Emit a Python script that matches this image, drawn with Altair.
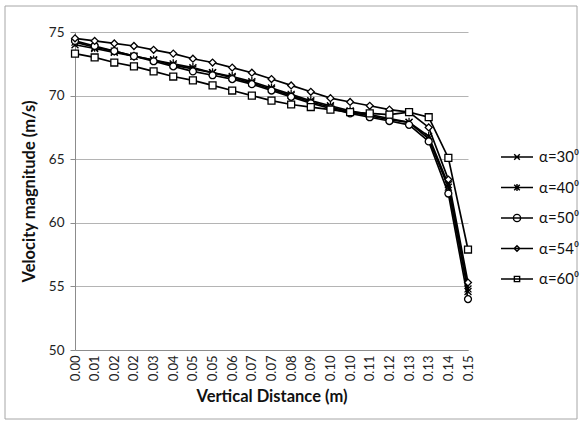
import altair as alt
import pandas as pd

x_labels = ['0.00', '0.01', '0.02', '0.02', '0.03', '0.04', '0.05', '0.05', '0.06', '0.07',
            '0.07', '0.08', '0.09', '0.10', '0.10', '0.11', '0.12', '0.13', '0.13', '0.14', '0.15']
series = ['α=30⁰', 'α=40⁰', 'α=50⁰', 'α=54⁰', 'α=60⁰']

v30 = [74.0, 73.7, 73.4, 73.1, 72.8, 72.4, 72.1, 71.8, 71.4, 71.0, 70.5,
       70.0, 69.5, 69.1, 68.7, 68.4, 68.1, 67.9, 66.6, 62.8, 54.6]
v40 = [74.2, 73.8, 73.5, 73.1, 72.8, 72.5, 72.2, 71.8, 71.5, 71.1, 70.6,
       70.1, 69.6, 69.2, 68.8, 68.5, 68.2, 67.9, 66.8, 63.0, 54.8]
v50 = [74.3, 73.9, 73.5, 73.1, 72.7, 72.3, 71.9, 71.6, 71.3, 70.9, 70.4,
       69.9, 69.4, 69.0, 68.6, 68.3, 68.0, 67.7, 66.4, 62.3, 54.0]
v54 = [74.5, 74.3, 74.1, 73.9, 73.6, 73.3, 72.9, 72.6, 72.2, 71.8, 71.3,
       70.8, 70.3, 69.8, 69.5, 69.2, 68.9, 68.7, 67.5, 63.4, 55.3]
v60 = [73.3, 73.0, 72.6, 72.3, 71.9, 71.5, 71.2, 70.8, 70.4, 70.0, 69.6,
       69.3, 69.1, 68.9, 68.7, 68.6, 68.5, 68.7, 68.3, 65.1, 57.9]

rows = []
for name, vals in zip(series, [v30, v40, v50, v54, v60]):
    for i, (lab, v) in enumerate(zip(x_labels, vals)):
        rows.append({'i': i, 'label': lab, 'series': name, 'leg': name, 'v': v})
df = pd.DataFrame(rows)

FONT = 'Lato'

marker_paths = [
    'M-1,-1L1,1M-1,1L1,-1',
    'M-1,-1L1,1M-1,1L1,-1M0,-1.3L0,1.3',
    'circle',
    'diamond',
    'square',
]
legend_paths = [
    'M-2,0H2M-0.35,-0.35L0.35,0.35M-0.35,0.35L0.35,-0.35',
    'M-2,0H2M-0.35,-0.35L0.35,0.35M-0.35,0.35L0.35,-0.35M0,-0.45V0.45',
    'M-2,0H2M0.45,0A0.45,0.45 0 1,1 -0.45,0A0.45,0.45 0 1,1 0.45,0',
    'M-2,0H2M0,-0.35L0.35,0L0,0.35L-0.35,0Z',
    'M-2,0H2M-0.33,-0.33H0.33V0.33H-0.33Z',
]

label_expr = '[' + ','.join("'%s'" % l for l in x_labels) + '][datum.value]'

x_enc = alt.X('i:Q',
              scale=alt.Scale(domain=[0, len(x_labels) - 1], nice=False, zero=False),
              axis=alt.Axis(values=list(range(len(x_labels))), labelExpr=label_expr,
                            labelAngle=270, grid=False, ticks=False, labelPadding=5,
                            labelFont=FONT, labelFontSize=13, labelColor='#222',
                            domainColor='#8c8c8c', title='Vertical Distance (m)',
                            titleFont=FONT, titleFontSize=16.5, titleFontWeight='bold',
                            titleColor='#111', titlePadding=8))
y_enc = alt.Y('v:Q',
              scale=alt.Scale(domain=[50, 75], nice=False, zero=False),
              axis=alt.Axis(values=[50, 55, 60, 65, 70, 75], grid=True, gridColor='#b4b4b4',
                            tickSize=5, tickColor='#8c8c8c', domainColor='#8c8c8c',
                            labelPadding=6, labelFont=FONT, labelFontSize=13.5, labelColor='#222',
                            title='Velocity magnitude (m/s)', titleFont=FONT, titleFontSize=16.5,
                            titleFontWeight='bold', titleColor='#111', titlePadding=11))

base = alt.Chart(df)

lines = base.mark_line(color='black', strokeWidth=1.7).encode(
    x=x_enc, y=y_enc, detail='series:N')

points = base.mark_point(filled=True, fill='white', stroke='black', strokeWidth=1.3,
                         size=48, opacity=1).encode(
    x=x_enc, y=y_enc,
    shape=alt.Shape('series:N', scale=alt.Scale(domain=series, range=marker_paths), legend=None))

legend_layer = base.mark_point(filled=False, color='black', opacity=0, size=256,
                               strokeWidth=1.4).encode(
    x=x_enc, y=y_enc,
    shape=alt.Shape('leg:N', scale=alt.Scale(domain=series, range=legend_paths),
                    legend=alt.Legend(title=None, orient='none', legendX=433, legendY=116,
                                      symbolSize=256, symbolStrokeWidth=1.4,
                                      symbolStrokeColor='black', symbolOpacity=1,
                                      labelFont=FONT, labelFontSize=15, labelColor='#111',
                                      labelOffset=13, rowPadding=13.5, padding=0)))

border = alt.Chart(pd.DataFrame({'a': [0]})).mark_rect(
    filled=False, stroke='#a6a6a6', strokeWidth=1).encode(
    x=alt.value(-70), x2=alt.value(502), y=alt.value(-26), y2=alt.value(387))

chart = alt.layer(border, lines, points, legend_layer).resolve_scale(
    shape='independent'
).properties(
    width=393, height=318,
    autosize=alt.AutoSizeParams(type='none'),
    padding={'left': 75, 'top': 32, 'right': 114, 'bottom': 74},
    background='white',
).configure_view(strokeWidth=0)

chart.save('out.html', embed_options={'renderer': 'svg', 'actions': False})
